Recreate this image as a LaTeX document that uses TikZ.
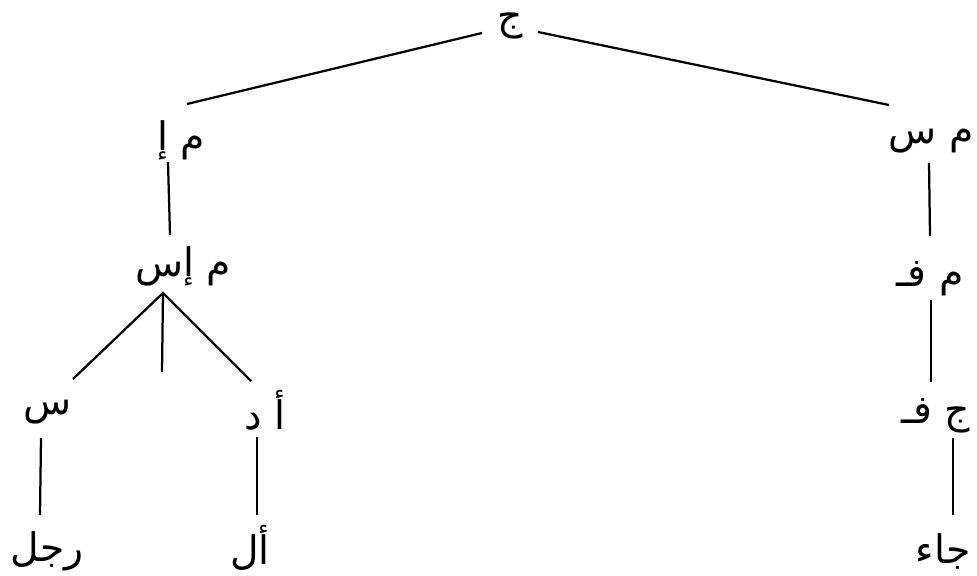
\documentclass[tikz,border=0pt]{standalone}
\usepackage{fontspec}
\usepackage{tikz}
\TeXXeTstate=1
\newfontfamily\arabicfont[Script=Arabic]{DejaVu Sans}
\newcommand{\artext}[1]{\beginR #1\endR}

\begin{document}
\begin{tikzpicture}[x=0.025cm, y=-0.025cm, line width=1.6pt,
    word/.style={font=\arabicfont\fontsize{28}{32}\selectfont, inner sep=0pt}]
  \useasboundingbox (0,0) rectangle (977,576);
  % labels
  \node[word] (J)     at (510,26)  {\artext{ج}};
  \node[word] (MI)    at (181,140) {\artext{م إ}};
  \node[word] (MS)    at (931,141) {\artext{م س}};
  \node[word] (MIS)   at (183,266) {\artext{م إس}};
  \node[word] (S)     at (48,412)  {\artext{س}};
  \node[word] (AD)    at (265,410) {\artext{أ د}};
  \node[word] (RAJUL) at (47,551)  {\artext{رجل}};
  \node[word] (AL)    at (250,548) {\artext{أل}};
  \node[word] (MF)    at (930,279) {\artext{م فـ}};
  \node[word] (JF)    at (936,416) {\artext{ج فـ}};
  \node[word] (JAA)   at (943,551) {\artext{جاء}};
  \coordinate (MISmid) at (162,372);
  % branches
  \draw ([shift={(-28,7)}]J.center) -- ([shift={(6,-36)}]MI.center);
  \draw ([shift={(28,6)}]J.center) -- ([shift={(-42,-36)}]MS.center);
  \draw ([shift={(-13,22)}]MI.center) -- ([shift={(-13,-31)}]MIS.center);
  \draw ([shift={(25,-33)}]S.center) -- ([shift={(-20,27)}]MIS.center)
        -- ([shift={(-14,-29)}]AD.center);
  \draw ([shift={(-20,27)}]MIS.center) -- (MISmid);
  \draw ([shift={(-7,26)}]S.center) -- ([shift={(-7,-36)}]RAJUL.center);
  \draw ([shift={(-8,27)}]AD.center) -- ([shift={(7,-33)}]AL.center);
  \draw ([shift={(-2,22)}]MS.center) -- ([shift={(0,-43)}]MF.center);
  \draw ([shift={(1,21)}]MF.center) -- ([shift={(-5,-34)}]JF.center);
  \draw ([shift={(17,22)}]JF.center) -- ([shift={(10,-36)}]JAA.center);
\end{tikzpicture}
\end{document}
